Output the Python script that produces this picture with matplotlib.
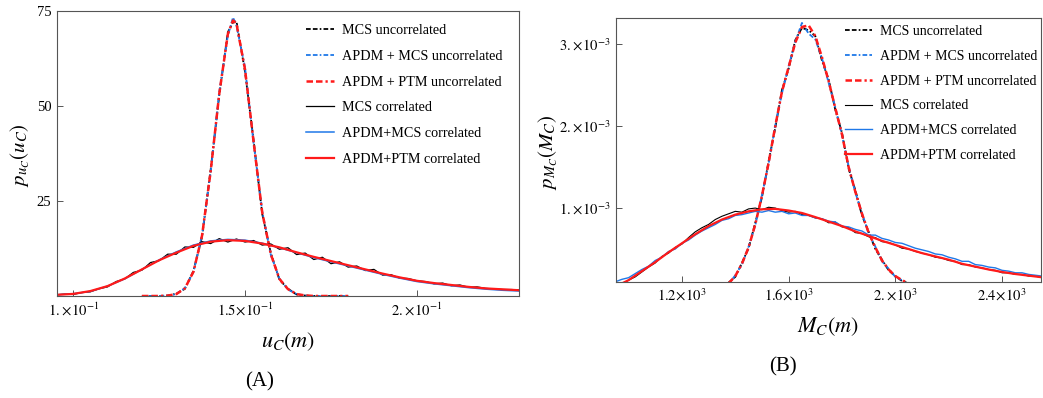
import matplotlib
matplotlib.use("Agg")
import matplotlib.pyplot as plt
import numpy as np

plt.rcParams["font.family"] = ["Liberation Serif", "DejaVu Serif"]
plt.rcParams["mathtext.fontset"] = "stix"

# ---- panel A : u_C ----
uA_narrow = [0.120, 0.1225, 0.125, 0.1275, 0.130, 0.1325, 0.135, 0.1375, 0.140, 0.1425, 0.145, 0.1465,
             0.1475, 0.150, 0.1525, 0.155, 0.1575, 0.160, 0.1625, 0.165, 0.1675, 0.170, 0.175, 0.180]
pA_mcs_unc = [0.0, 0.0, 0.0, 0.1, 0.6, 1.9, 6.6, 15.6, 33.2, 52.8, 69.4, 72.0,
              72.3, 59.0, 40.9, 21.6, 11.3, 4.3, 1.9, 0.4, 0.1, 0.0, 0.0, 0.0]
pA_apdm_mcs_unc = [0.0, 0.0, 0.0, 0.1, 0.5, 2.1, 6.3, 16.1, 32.5, 53.6, 68.5, 73.3,
                   71.2, 60.1, 40.2, 22.3, 10.8, 4.6, 1.7, 0.5, 0.1, 0.0, 0.0, 0.0]
pA_apdm_ptm_unc = [0.0, 0.0, 0.0, 0.1, 0.5, 2.0, 6.4, 15.9, 32.8, 53.2, 68.9, 72.5,
                   71.7, 59.6, 40.5, 22.0, 11.0, 4.5, 1.8, 0.5, 0.15, 0.0, 0.0, 0.0]

uA_mcs = [0.0950, 0.0975, 0.1000, 0.1025, 0.1050, 0.1075, 0.1100, 0.1125, 0.1150, 0.1175, 0.1200,
          0.1225, 0.1250, 0.1275, 0.1300, 0.1325, 0.1350, 0.1375, 0.1400, 0.1425, 0.1450, 0.1475,
          0.1500, 0.1525, 0.1550, 0.1575, 0.1600, 0.1625, 0.1650, 0.1675, 0.1700, 0.1725, 0.1750,
          0.1775, 0.1800, 0.1825, 0.1850, 0.1875, 0.1900, 0.1925, 0.1950, 0.1975, 0.2000, 0.2025,
          0.2050, 0.2075, 0.2100, 0.2125, 0.2150, 0.2175, 0.2200, 0.2250, 0.2275, 0.2300]
pA_mcs_cor = [0.3, 0.5, 0.4, 0.9, 1.1, 1.9, 2.4, 3.8, 4.5, 6.2, 6.8,
              8.8, 9.3, 11.0, 11.0, 12.9, 12.8, 14.3, 13.8, 15.1, 14.2, 15.0,
              14.2, 14.6, 13.4, 13.7, 12.3, 12.7, 10.9, 11.3, 9.6, 10.2, 8.5,
              9.0, 7.6, 7.9, 6.7, 7.0, 5.5, 5.6, 4.7, 4.6, 4.0, 3.8,
              3.2, 3.4, 2.7, 2.9, 2.3, 2.4, 2.0, 1.7, 1.7, 1.6]

uA_cor = [0.095, 0.100, 0.105, 0.110, 0.115, 0.120, 0.125, 0.130, 0.135, 0.140, 0.145, 0.150, 0.155, 0.160,
          0.165, 0.170, 0.175, 0.180, 0.185, 0.190, 0.195, 0.200, 0.205, 0.210, 0.215, 0.220, 0.225, 0.230]
pA_apdm_mcs_cor = [0.3, 0.6, 1.2, 2.6, 4.5, 7.0, 9.5, 11.6, 13.4, 14.5, 14.9, 14.7, 13.9, 12.7,
                   11.4, 10.1, 9.0, 7.9, 6.8, 5.7, 4.7, 3.8, 3.2, 2.7, 2.2, 1.8, 1.5, 1.3]
pA_apdm_ptm_cor = [0.3, 0.55, 1.3, 2.6, 4.6, 7.0, 9.4, 11.4, 13.2, 14.3, 14.7, 14.5, 13.8, 12.8,
                   11.5, 10.3, 9.2, 8.1, 7.0, 5.9, 4.9, 4.0, 3.4, 2.9, 2.4, 2.0, 1.75, 1.5]

# ---- panel B : M_C (densities in units of 1e-3) ----
mB_narrow = [1375, 1400, 1425, 1450, 1475, 1500, 1525, 1550, 1575, 1600, 1625, 1650, 1675, 1700,
             1725, 1750, 1775, 1800, 1825, 1850, 1875, 1900, 1925, 1950, 1975, 2000, 2025, 2050]
pB_mcs_unc = [0.09, 0.16, 0.33, 0.51, 0.82, 1.13, 1.57, 1.98, 2.44, 2.70, 3.05, 3.20, 3.17, 3.10,
              2.80, 2.57, 2.20, 1.92, 1.48, 1.22, 0.91, 0.71, 0.50, 0.37, 0.24, 0.17, 0.11, 0.08]
pB_apdm_mcs_unc = [0.07, 0.18, 0.31, 0.53, 0.79, 1.16, 1.54, 2.01, 2.40, 2.73, 3.03, 3.26, 3.13, 3.06,
                   2.83, 2.53, 2.23, 1.89, 1.51, 1.19, 0.94, 0.69, 0.53, 0.35, 0.26, 0.16, 0.12, 0.07]
pB_apdm_ptm_unc = [0.08, 0.17, 0.32, 0.52, 0.80, 1.15, 1.55, 2.00, 2.42, 2.72, 3.02, 3.21, 3.23, 3.10,
                   2.84, 2.55, 2.22, 1.90, 1.50, 1.20, 0.93, 0.70, 0.52, 0.36, 0.25, 0.17, 0.12, 0.08]

mB_mcs = [950, 975, 1000, 1025, 1050, 1075, 1100, 1125, 1150, 1175, 1200, 1225, 1250, 1275, 1300, 1325,
          1350, 1375, 1400, 1425, 1450, 1475, 1500, 1525, 1550, 1575, 1600, 1625, 1650, 1675, 1700, 1725,
          1750, 1775, 1800, 1825, 1850, 1875, 1900, 1925, 1950, 1975, 2000, 2025, 2050, 2075, 2100, 2125,
          2150, 2175, 2200, 2225, 2250, 2275, 2300, 2325, 2350, 2375, 2400, 2425, 2450, 2475, 2500, 2525,
          2550]
pB_mcs_cor = [0.04, 0.07, 0.12, 0.16, 0.22, 0.28, 0.33, 0.41, 0.45, 0.52, 0.56, 0.64, 0.71, 0.76, 0.80, 0.86,
              0.90, 0.93, 0.96, 0.95, 0.99, 1.00, 0.98, 1.01, 1.00, 0.97, 0.95, 0.96, 0.92, 0.91, 0.88, 0.87,
              0.82, 0.83, 0.77, 0.76, 0.70, 0.69, 0.65, 0.64, 0.59, 0.58, 0.55, 0.51, 0.50, 0.47, 0.45, 0.43,
              0.40, 0.39, 0.36, 0.35, 0.31, 0.31, 0.28, 0.27, 0.25, 0.24, 0.21, 0.21, 0.19, 0.19, 0.17, 0.17,
              0.15]
pB_apdm_mcs_cor = [0.10, 0.13, 0.15, 0.20, 0.25, 0.29, 0.36, 0.40, 0.47, 0.50, 0.57, 0.61, 0.67, 0.72, 0.76, 0.80,
                   0.85, 0.87, 0.91, 0.92, 0.94, 0.96, 0.95, 0.97, 0.95, 0.96, 0.93, 0.94, 0.91, 0.91, 0.88, 0.87,
                   0.84, 0.83, 0.78, 0.77, 0.74, 0.72, 0.67, 0.67, 0.63, 0.61, 0.58, 0.57, 0.54, 0.51, 0.49, 0.47,
                   0.44, 0.43, 0.40, 0.38, 0.35, 0.35, 0.31, 0.30, 0.28, 0.27, 0.24, 0.23, 0.21, 0.21, 0.19, 0.18,
                   0.17]

mB_cor = [950, 1000, 1050, 1100, 1150, 1200, 1250, 1300, 1350, 1400, 1450, 1500, 1550, 1600, 1650, 1700, 1750,
          1800, 1850, 1900, 1950, 2000, 2050, 2100, 2150, 2200, 2250, 2300, 2350, 2400, 2450, 2500, 2550]
pB_apdm_ptm_cor = [0.04, 0.12, 0.23, 0.34, 0.46, 0.57, 0.68, 0.78, 0.86, 0.92, 0.96, 0.985, 0.99, 0.97, 0.94,
                   0.89, 0.835, 0.78, 0.715, 0.66, 0.60, 0.55, 0.50, 0.45, 0.41, 0.37, 0.32, 0.285, 0.25,
                   0.22, 0.195, 0.175, 0.155]

labels = ["MCS uncorrelated", "APDM + MCS uncorrelated", "APDM + PTM uncorrelated",
          "MCS correlated", "APDM+MCS correlated", "APDM+PTM correlated"]

blue = "#1f78e8"
red = "#ff1a1a"
dd = (0, (2.6, 1.2, 2.6, 1.2, 0.9, 1.2))

fig = plt.figure(figsize=(10.43, 3.98), dpi=100)
axA = fig.add_axes([57/1043, 1-296/398, 462/1043, 285/398])
axB = fig.add_axes([616/1043, 1-282/398, 425/1043, 264/398])

def style(ax):
    for s in ax.spines.values():
        s.set_color("#555555")
        s.set_linewidth(0.8)
    ax.tick_params(direction="in", length=4, width=0.7, color="#555555", labelsize=10.5,
                   top=False, right=False, pad=4)

# panel A
axA.plot(uA_narrow, pA_mcs_unc, color="black", ls=dd, lw=1.3, label=labels[0])
axA.plot(uA_narrow, pA_apdm_mcs_unc, color=blue, ls=dd, lw=1.3, label=labels[1])
axA.plot(uA_narrow, pA_apdm_ptm_unc, color=red, ls=dd, lw=1.8, label=labels[2])
axA.plot(uA_mcs, pA_mcs_cor, color="black", lw=0.9, label=labels[3])
axA.plot(uA_cor, pA_apdm_mcs_cor, color=blue, lw=1.1, label=labels[4])
axA.plot(uA_cor, pA_apdm_ptm_cor, color=red, lw=1.6, label=labels[5])
axA.set_xlim(0.0953, 0.2297)
axA.set_ylim(0, 75)
axA.set_xticks([0.1, 0.15, 0.2])
axA.set_xticklabels([r"$1.\!\times\!10^{-1}$", r"$1.5\!\times\!10^{-1}$", r"$2.\!\times\!10^{-1}$"])
axA.set_yticks([25, 50, 75])
axA.set_yticklabels(["25", "50", "75"])
style(axA)
axA.legend(loc="upper left", bbox_to_anchor=(306/1043, 1-24/398), bbox_transform=fig.transFigure,
           frameon=False, fontsize=10.2, handlelength=1.95, handletextpad=0.6, labelspacing=0.9,
           borderpad=0, borderaxespad=0)

# panel B
axB.plot(mB_narrow, np.array(pB_mcs_unc)*1e-3, color="black", ls=dd, lw=1.3, label=labels[0])
axB.plot(mB_narrow, np.array(pB_apdm_mcs_unc)*1e-3, color=blue, ls=dd, lw=1.3, label=labels[1])
axB.plot(mB_narrow, np.array(pB_apdm_ptm_unc)*1e-3, color=red, ls=dd, lw=1.8, label=labels[2])
axB.plot(mB_mcs, np.array(pB_mcs_cor)*1e-3, color="black", lw=0.8, label=labels[3])
axB.plot(mB_mcs, np.array(pB_apdm_mcs_cor)*1e-3, color=blue, lw=1.0, label=labels[4])
axB.plot(mB_cor, np.array(pB_apdm_ptm_cor)*1e-3, color=red, lw=1.6, label=labels[5])
axB.set_xlim(953, 2546)
axB.set_ylim(0.0976e-3, 3.32e-3)
axB.set_xticks([1200, 1600, 2000, 2400])
axB.set_xticklabels([r"$1.2\!\times\!10^{3}$", r"$1.6\!\times\!10^{3}$", r"$2.\!\times\!10^{3}$", r"$2.4\!\times\!10^{3}$"])
axB.set_yticks([1e-3, 2e-3, 3e-3])
axB.set_yticklabels([r"$1.\!\times\!10^{-3}$", r"$2.\!\times\!10^{-3}$", r"$3.\!\times\!10^{-3}$"])
style(axB)
axB.legend(loc="upper left", bbox_to_anchor=(845/1043, 1-25/398), bbox_transform=fig.transFigure,
           frameon=False, fontsize=10.0, handlelength=1.95, handletextpad=0.6, labelspacing=0.85,
           borderpad=0, borderaxespad=0)

# axis labels and captions
fig.text(288/1043, 1-342/398, r"$u_C(m)$", fontsize=16, ha="center", va="center")
fig.text(20/1043, 1-155/398, r"$p_{u_C}(u_C)$", fontsize=15, ha="center", va="center", rotation=90)
fig.text(828/1043, 1-327/398, r"$M_C(m)$", fontsize=16, ha="center", va="center")
fig.text(548/1043, 1-152/398, r"$p_{M_C}(M_C)$", fontsize=15, ha="center", va="center", rotation=90)
fig.text(260/1043, 1-382/398, "(A)", fontsize=15, ha="center", va="center")
fig.text(783/1043, 1-367/398, "(B)", fontsize=15, ha="center", va="center")

fig.savefig("out.png", dpi=100)
